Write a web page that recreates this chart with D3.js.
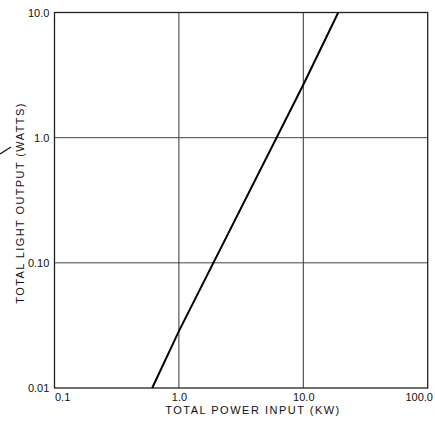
<!DOCTYPE html>
<html><head><meta charset="utf-8">
<script src="https://cdn.jsdelivr.net/npm/d3@7"></script>
<style>
body{margin:0;background:#fff;}
text{font-family:"Liberation Sans",Arial,sans-serif;fill:#111;}
</style></head>
<body><svg id="c" width="435" height="421"></svg>
<script>
const powerInput = [0.61, 1.0, 10.0, 19.1];      // kW
const lightOutput = [0.01, 0.0285, 2.65, 10.0];   // watts
const xTicks = [0.1, 1, 10, 100];
const xTickLabels = ["0.1", "1.0", "10.0", "100.0"];
const yTicks = [0.01, 0.1, 1, 10];
const yTickLabels = ["0.01", "0.10", "1.0", "10.0"];
const xTitle = "TOTAL POWER INPUT (KW)";
const yTitle = "TOTAL LIGHT OUTPUT (WATTS)";

const svg = d3.select("#c");
const L = 54.5, R = 427.7, T = 12.5, B = 388;
const x = d3.scaleLog().domain([0.1, 100]).range([L, R]);
const y = d3.scaleLog().domain([0.01, 10]).range([B, T]);

// grid
const g = svg.append("g");
g.selectAll("line.vx").data(xTicks.slice(1, -1)).join("line")
  .attr("x1", d => x(d)).attr("x2", d => x(d)).attr("y1", T).attr("y2", B)
  .attr("stroke", "#333").attr("stroke-width", 1);
g.selectAll("line.hy").data(yTicks.slice(1, -1)).join("line")
  .attr("y1", d => y(d)).attr("y2", d => y(d)).attr("x1", L).attr("x2", R)
  .attr("stroke", "#444").attr("stroke-width", 1);

// frame
svg.append("rect").attr("x", L).attr("y", T).attr("width", R - L).attr("height", B - T)
  .attr("fill", "none").attr("stroke", "#222").attr("stroke-width", 1.3);

// axes (labels only)
const xAxis = d3.axisBottom(x).tickValues(xTicks).tickSize(0)
  .tickFormat((d, i) => xTickLabels[i]);
const xg = svg.append("g").attr("transform", `translate(0,${B})`).call(xAxis);
xg.select(".domain").remove();
xg.selectAll("text").attr("font-size", 11).attr("dy", "0.9em")
  .attr("font-family", "Liberation Sans, Arial, sans-serif").attr("fill", "#111")
  .attr("text-anchor", (d, i) => i === 0 ? "start" : "middle")
  .attr("dx", (d, i) => i === 0 ? 0 : (i === xTicks.length - 1 ? -9 : 0));

const yAxis = d3.axisLeft(y).tickValues(yTicks).tickSize(0)
  .tickFormat((d, i) => yTickLabels[i]);
const yg = svg.append("g").attr("transform", `translate(${L},0)`).call(yAxis);
yg.select(".domain").remove();
yg.selectAll("text").attr("font-size", 11).attr("dx", "-0.2em")
  .attr("font-family", "Liberation Sans, Arial, sans-serif").attr("fill", "#111");

// data line
svg.append("path").datum(powerInput.map((p, i) => [p, lightOutput[i]]))
  .attr("d", d3.line().x(d => x(d[0])).y(d => y(d[1])))
  .attr("fill", "none").attr("stroke", "#000").attr("stroke-width", 2);

// titles
svg.append("text").attr("x", 253).attr("y", 414).attr("text-anchor", "middle")
  .attr("font-size", 11).attr("letter-spacing", "1.5px").text(xTitle);
svg.append("text").attr("transform", `translate(24,${203}) rotate(-90)`).attr("text-anchor", "middle")
  .attr("font-size", 11).attr("letter-spacing", "1.4px").text(yTitle);

// leader mark
svg.append("line").attr("x1", 0).attr("y1", 154).attr("x2", 11).attr("y2", 147)
  .attr("stroke", "#111").attr("stroke-width", 1.2);
</script></body></html>
